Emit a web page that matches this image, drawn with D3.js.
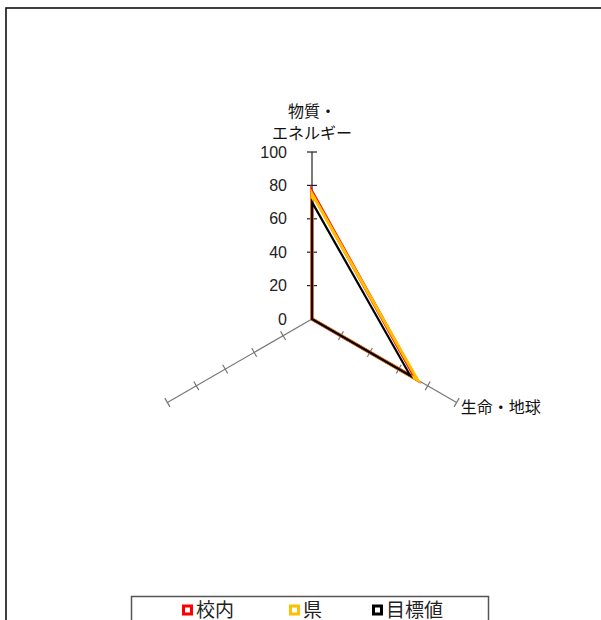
<!DOCTYPE html>
<html><head><meta charset="utf-8">
<script src="https://cdn.jsdelivr.net/npm/d3@7"></script>
<style>
html,body{margin:0;padding:0;background:#fff;}
svg{display:block;}
text{font-family:"Liberation Sans","Noto Sans CJK JP",Arial,sans-serif;}
</style></head>
<body>
<script>
const axes = ["物質・エネルギー", "生命・地球", ""];
const axisLabelLines = [["物質・", "エネルギー"], ["生命・地球"], []];
const tickValues = [0, 20, 40, 60, 80, 100];
const seriesNames = ["校内", "県", "目標値"];
const valsSchool = [76, 72, 0];
const valsPref = [75, 73, 0];
const valsTarget = [70, 68, 0];
const seriesColors = ["#ff0000", "#ffc000", "#000000"];

const W = 601, H = 620;
const cx = 312, cy = 319, R = 167;
const svg = d3.select("body").append("svg").attr("width", W).attr("height", H);

svg.append("rect").attr("x", 0).attr("y", 0).attr("width", W).attr("height", H).attr("fill", "#fff");
// outer frame
svg.append("rect").attr("x", 6).attr("y", 8).attr("width", 620).attr("height", 640)
  .attr("fill", "none").attr("stroke", "#111").attr("stroke-width", 1.6);

const r = d3.scaleLinear().domain([0, 100]).range([0, R]);
const angle = d3.scalePoint().domain(d3.range(axes.length)).range([0, 2 * Math.PI * (axes.length - 1) / axes.length]);
const pt = (i, v) => [cx + r(v) * Math.sin(angle(i)), cy - r(v) * Math.cos(angle(i))];

const g = svg.append("g");
// axes
axes.forEach((a, i) => {
  const [x1, y1] = pt(i, 0), [x2, y2] = pt(i, 100);
  const col = i === 0 ? "#222" : "#777";
  g.append("line").attr("x1", x1).attr("y1", y1).attr("x2", x2).attr("y2", y2)
    .attr("stroke", col).attr("stroke-width", 1.2);
  const th = angle(i);
  const px = Math.cos(th), py = Math.sin(th);
  tickValues.forEach(t => {
    if (t === 0) return;
    const [tx, ty] = pt(i, t);
    g.append("line").attr("x1", tx - px * 5).attr("y1", ty - py * 5)
      .attr("x2", tx + px * 5).attr("y2", ty + py * 5)
      .attr("stroke", col).attr("stroke-width", 1.2);
  });
});

// tick labels on first axis
tickValues.forEach(t => {
  const [tx, ty] = pt(0, t);
  g.append("text").attr("x", tx - 25).attr("y", ty).attr("dy", "0.35em")
    .attr("text-anchor", "end").attr("font-size", 16).attr("fill", "#222").text(t);
});

// axis labels
g.append("text").attr("text-anchor", "middle").attr("font-size", 16).attr("fill", "#111")
  .selectAll("tspan").data(axisLabelLines[0]).join("tspan")
  .attr("x", cx).attr("y", (d, k) => 117 + k * 22).text(d => d);
{
  const [x2, y2] = pt(1, 100);
  g.append("text").attr("x", x2 + 4).attr("y", y2 + 5).attr("dy", "0.35em")
    .attr("font-size", 16).attr("fill", "#111").text(axisLabelLines[1][0]);
}

// series
const lineGen = d3.lineRadial().angle((d, i) => angle(i)).radius(d => r(d)).curve(d3.curveLinearClosed);
const seriesData = [valsSchool, valsPref, valsTarget];
const widths = [3.5, 3, 2.2];
seriesData.forEach((vals, s) => {
  g.append("path").attr("transform", `translate(${cx},${cy})`)
    .attr("d", lineGen(vals)).attr("fill", "none")
    .attr("stroke", seriesColors[s]).attr("stroke-width", widths[s]).attr("stroke-linejoin", "miter");
});

// legend
const lg = svg.append("g");
lg.append("rect").attr("x", 131.5).attr("y", 596.5).attr("width", 357).attr("height", 40)
  .attr("fill", "#fff").attr("stroke", "#555").attr("stroke-width", 1.5);
const legendX = [182, 289, 372];
seriesNames.forEach((n, s) => {
  lg.append("rect").attr("x", legendX[s] + 1.5).attr("y", 606).attr("width", 8).attr("height", 8)
    .attr("fill", "#fff").attr("stroke", seriesColors[s]).attr("stroke-width", 3);
  lg.append("text").attr("x", legendX[s] + 14).attr("y", 617).attr("font-size", 19)
    .attr("fill", "#222").text(n);
});
</script>
</body></html>
